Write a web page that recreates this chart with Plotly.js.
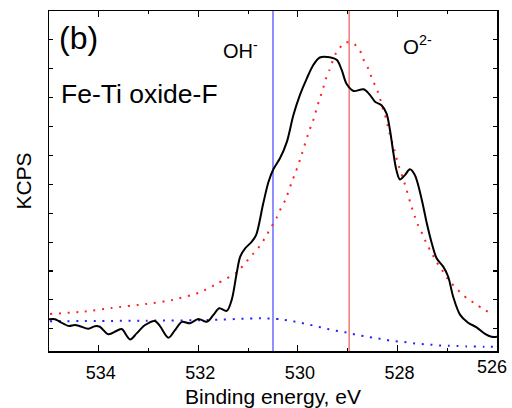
<!DOCTYPE html>
<html>
<head>
<meta charset="utf-8">
<script src="https://cdn.plot.ly/plotly-3.0.1.min.js"></script>
<style>html,body{margin:0;padding:0;background:#fff;}#plot{width:512px;height:408px;}</style>
</head>
<body>
<div id="plot"></div>
<script>
// Measured spectrum (black)
const measX = [535.00,534.88,534.78,534.61,534.48,534.38,534.21,534.08,533.98,533.81,533.64,533.54,533.37,533.24,533.07,532.87,532.77,532.60,532.47,532.33,532.17,532.00,531.83,531.70,531.58,531.43,531.33,531.23,531.16,531.06,530.93,530.84,530.70,530.59,530.49,530.36,530.22,530.09,529.96,529.82,529.69,529.56,529.36,529.22,529.12,529.02,528.88,528.68,528.55,528.45,528.32,528.22,528.15,528.08,528.02,527.95,527.85,527.75,527.65,527.51,527.41,527.31,527.21,527.08,526.98,526.88,526.74,526.58,526.41,526.24,526.11,526.00];
const measY = [0.33,0.33,0.24,0.10,0.13,0.09,0.00,0.09,0.07,-0.19,-0.07,-0.01,-0.37,-0.16,0.13,0.27,0.09,-0.31,-0.05,0.24,0.19,0.34,0.24,0.47,0.71,0.62,1.00,1.92,2.49,2.78,3.01,3.24,4.31,5.09,5.53,5.90,6.48,7.40,8.09,8.67,9.13,9.39,9.40,9.31,8.96,8.47,8.23,8.29,8.09,7.86,7.74,7.46,6.88,6.07,5.49,5.17,5.32,5.52,5.32,4.46,3.65,2.96,2.43,2.15,1.80,1.11,0.48,0.21,0.05,-0.18,-0.28,-0.28];
// Fit envelope (red dotted)
const fitX = [534.98,534.28,533.74,533.04,532.51,531.97,531.61,531.23,531.06,530.90,530.76,530.64,530.54,530.43,530.34,530.25,530.12,530.04,529.92,529.80,529.74,529.67,529.62,529.56,529.50,529.44,529.37,529.23,529.05,528.89,528.75,528.67,528.58,528.51,528.43,528.36,528.31,528.25,528.20,528.16,528.06,528.00,527.85,527.73,527.65,527.58,527.49,527.41,527.31,527.21,527.08,526.96,526.79,526.61,526.42,526.26,526.09];
const fitY = [0.51,0.60,0.72,0.86,1.00,1.26,1.57,1.95,2.27,2.59,2.88,3.20,3.51,3.83,4.17,4.46,5.09,5.44,6.05,6.71,7.00,7.32,7.65,7.96,8.29,8.64,8.94,9.56,9.91,9.89,9.62,9.27,8.99,8.65,8.36,8.04,7.71,7.40,7.06,6.77,6.20,5.78,5.00,4.30,3.88,3.57,3.25,2.93,2.62,2.30,1.97,1.66,1.35,1.06,0.85,0.66,0.51];
// OH component (blue dotted)
const ohX = [534.98,533.04,531.83,530.90,530.74,530.52,530.36,530.17,530.00,529.82,529.64,529.47,529.29,529.11,528.93,528.75,528.57,528.40,528.22,528.04,527.86,527.68,527.51,527.33,527.16,526.97,526.79,526.61,526.26,526.00];
const ohY = [0.26,0.28,0.30,0.36,0.36,0.35,0.33,0.28,0.23,0.16,0.09,0.02,-0.05,-0.10,-0.17,-0.23,-0.29,-0.33,-0.39,-0.43,-0.46,-0.50,-0.53,-0.55,-0.58,-0.59,-0.60,-0.61,-0.62,-0.62];
// Reference positions (eV)
const ohLine = [530.5];
const o2Line = [528.97];
const xTicks = [534, 532, 530, 528, 526];

const font = 'Arial, "Liberation Sans", sans-serif';
// the label at the right end of the axis is placed as an annotation so it stays inside the picture
const lastTick = xTicks[xTicks.length - 1];
const xTickText = xTicks.map(v => v === lastTick ? '' : String(v));
const traces = [
  {x: fitX, y: fitY, mode: 'lines', line: {color: '#ff2020', width: 2, dash: '2px,6.7px', shape: 'spline', smoothing: 0.6}, hoverinfo: 'skip'},
  {x: ohX, y: ohY, mode: 'lines', line: {color: '#2020ff', width: 2, dash: '2px,6.7px', shape: 'spline', smoothing: 0.6}, hoverinfo: 'skip'},
  {x: measX, y: measY, mode: 'lines', line: {color: '#000000', width: 2, shape: 'spline', smoothing: 0.9}, hoverinfo: 'skip'}
];
const shapes = [
  {type: 'line', xref: 'x', yref: 'paper', x0: ohLine[0], x1: ohLine[0], y0: 0, y1: 1, line: {color: '#6a6aff', width: 1.5}, layer: 'below'},
  {type: 'line', xref: 'x', yref: 'paper', x0: o2Line[0], x1: o2Line[0], y0: 0, y1: 1, line: {color: '#f07878', width: 1.5}, layer: 'below'}
];
const layout = {
  width: 512, height: 408,
  margin: {l: 49, r: 15, t: 11, b: 57},
  paper_bgcolor: '#fff', plot_bgcolor: '#fff',
  showlegend: false,
  font: {family: font, color: '#000'},
  xaxis: {
    range: [535.0005, 525.9995], tickvals: xTicks, ticktext: xTickText,
    ticks: 'inside', ticklen: 6, tickwidth: 1.2, tickcolor: '#000',
    minor: {dtick: 1, ticks: 'inside', ticklen: 3, tickwidth: 1.2, tickcolor: '#000'},
    showline: true, linecolor: '#000', linewidth: 1.5, mirror: 'ticks',
    showgrid: false, zeroline: false,
    tickfont: {size: 18, family: font},
    ticklabelstandoff: 5, ticklabelshift: -2,
    title: {text: 'Binding energy, eV', font: {size: 21, family: font}, standoff: 12}
  },
  yaxis: {
    range: [-0.77, 11.0], dtick: 1, tick0: 0,
    ticks: 'inside', ticklen: 4, tickwidth: 1.2, tickcolor: '#000',
    showticklabels: false,
    showline: true, linecolor: '#000', linewidth: 1.5, mirror: 'ticks',
    showgrid: false, zeroline: false,
    title: {text: 'KCPS', font: {size: 21, family: font}, standoff: 10}
  },
  shapes: shapes,
  annotations: [
    {xref: 'x', yref: 'paper', x: lastTick, y: 0, xanchor: 'right', yanchor: 'top', xshift: 12, yshift: -4, text: String(lastTick), showarrow: false, font: {size: 18, family: font}},
    {xref: 'paper', yref: 'paper', x: 0.017, y: 0.921, xanchor: 'left', yanchor: 'middle', text: '(b)', showarrow: false, font: {size: 32, family: font}},
    {xref: 'paper', yref: 'paper', x: 0.022, y: 0.756, xanchor: 'left', yanchor: 'middle', text: 'Fe-Ti oxide-F', showarrow: false, font: {size: 26.5, family: font}},
    {xref: 'paper', yref: 'paper', x: 0.384, y: 0.888, xanchor: 'left', yanchor: 'middle', text: 'OH<sup>-</sup>', showarrow: false, font: {size: 20, family: font}},
    {xref: 'paper', yref: 'paper', x: 0.786, y: 0.901, xanchor: 'left', yanchor: 'middle', text: 'O<sup>2-</sup>', showarrow: false, font: {size: 20.5, family: font}}
  ]
};
Plotly.newPlot('plot', traces, layout, {staticPlot: true, displayModeBar: false});
</script>
</body>
</html>
